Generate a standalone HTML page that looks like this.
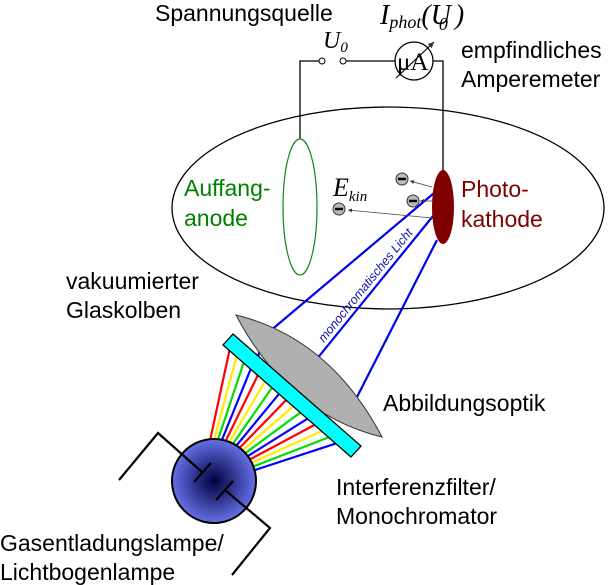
<!DOCTYPE html>
<html><head><meta charset="utf-8"><style>
html,body{margin:0;padding:0;background:#fff;}
svg{display:block;}
text{font-family:"Liberation Sans",sans-serif;font-size:23px;}
.s{font-family:"Liberation Serif",serif;font-style:italic;}
</style></head><body>
<svg width="608" height="585" viewBox="0 0 608 585" xmlns="http://www.w3.org/2000/svg">
<defs>
<radialGradient id="lg" cx="0.5" cy="0.5" r="0.5">
<stop offset="0" stop-color="#000040"/>
<stop offset="1" stop-color="#6670e6"/>
</radialGradient>
<marker id="ar" markerWidth="6" markerHeight="6" refX="5" refY="3" orient="auto"><path d="M0,0.5 L5,3 L0,5.5z" fill="#333"/></marker>
</defs>
<ellipse cx="388" cy="208" rx="216" ry="101" fill="none" stroke="#000" stroke-width="1.3"/>
<polyline points="300,139 300,61 319,61" fill="none" stroke="#000" stroke-width="1.3"/>
<circle cx="322" cy="61" r="3" fill="#fff" stroke="#000"/>
<circle cx="343" cy="61" r="3" fill="#fff" stroke="#000"/>
<line x1="346" y1="61" x2="395" y2="61" stroke="#000" stroke-width="1.3"/>
<polyline points="433,61 443,61 443,171" fill="none" stroke="#000" stroke-width="1.3"/>
<circle cx="414" cy="61" r="19" fill="#fff" stroke="#000" stroke-width="1.3"/>
<text x="397" y="70" class="s" style="font-style:normal;font-size:25px">μA</text>
<line x1="396" y1="78" x2="434" y2="42" stroke="#000" stroke-width="1.2" marker-end="url(#ar)"/>
<ellipse cx="300" cy="207" rx="17" ry="68" fill="none" stroke="#118811" stroke-width="1.2"/>
<g stroke="#0000ee" stroke-width="2.2" fill="none">
<polyline points="256,365 263,337 440,188"/>
<polyline points="290,392 442,205"/>
<polyline points="347,408 357,397 437,240"/>
</g>
<text transform="translate(324,343) rotate(-51)" style="font-size:12.5px;font-style:italic;fill:#1111aa">monochromatisches Licht</text>
<ellipse cx="443" cy="207" rx="11" ry="37" fill="#800000"/>
<g stroke="#444" stroke-width="0.8">
<line x1="432" y1="187" x2="410" y2="181" marker-end="url(#ar)"/>
<line x1="432" y1="201" x2="420" y2="201" marker-end="url(#ar)"/>
<line x1="432" y1="218" x2="348" y2="210" marker-end="url(#ar)"/>
</g>
<g fill="#bbb" stroke="#333" stroke-width="1">
<circle cx="402" cy="179" r="6"/><circle cx="413" cy="201" r="6"/><circle cx="339" cy="209" r="6"/>
</g>
<g stroke="#000" stroke-width="2.5">
<line x1="398" y1="179" x2="406" y2="179"/><line x1="409" y1="201" x2="417" y2="201"/><line x1="335" y1="209" x2="343" y2="209"/>
</g>
<path d="M236,315 Q330,338 382,437 Q288,414 236,315Z" fill="#b0b0b0" stroke="#333" stroke-width="1"/>
<g stroke-width="2.2" id="rays"></g>
<polygon points="233,334 361,446 351,457 223,345" fill="#00ffff" stroke="#000" stroke-width="1.3"/>
<circle cx="214" cy="481" r="42" fill="url(#lg)" stroke="#000" stroke-width="2"/>
<g stroke="#000" stroke-width="2.2" fill="none">
<polyline points="119,480 158,433 202,472"/>
<line x1="194" y1="482" x2="211" y2="463"/>
<polyline points="225,490 270,528 232,575"/>
<line x1="216" y1="500" x2="233" y2="481"/>
</g>
<text x="155" y="21">Spannungsquelle</text>
<text x="323" y="48" class="s" style="font-size:24px">U<tspan font-size="15" dy="4">0</tspan></text>
<text x="380" y="24" class="s" style="font-size:28px">I<tspan font-size="18" dy="4">phot</tspan><tspan dy="-4">(U</tspan><tspan font-size="18" dy="6" dx="-12">0</tspan><tspan dy="-6"> )</tspan></text>
<text x="461" y="58">empfindliches</text>
<text x="461" y="87">Amperemeter</text>
<text x="184" y="196" fill="#008000">Auffang-</text>
<text x="184" y="226" fill="#008000">anode</text>
<text x="461" y="197" fill="#800000">Photo-</text>
<text x="461" y="227" fill="#800000">kathode</text>
<text x="333" y="196" class="s" style="font-size:26px">E<tspan font-size="15" dy="5">kin</tspan></text>
<text x="66" y="289">vakuumierter</text>
<text x="66" y="318">Glaskolben</text>
<text x="383" y="411">Abbildungsoptik</text>
<text x="336" y="495">Interferenzfilter/</text>
<text x="336" y="524">Monochromator</text>
<text x="0" y="551">Gasentladungslampe/</text>
<text x="0" y="580">Lichtbogenlampe</text>
</svg>
<script>
var g=document.getElementById('rays');var cols=['#ff0000','#ffee00','#00dd00','#0000ff'];var n=16;
for(var i=0;i<n;i++){var t=i/(n-1);var a=(-95+t*80)*Math.PI/180;var sx=214+42*Math.cos(a),sy=481+42*Math.sin(a);
var u=0.05+t*0.83;var ex=223+u*128,ey=345+u*112;
var l=document.createElementNS('http://www.w3.org/2000/svg','line');l.setAttribute('x1',sx);l.setAttribute('y1',sy);l.setAttribute('x2',ex);l.setAttribute('y2',ey);l.setAttribute('stroke',cols[i%4]);g.appendChild(l);}
</script>
</body></html>
